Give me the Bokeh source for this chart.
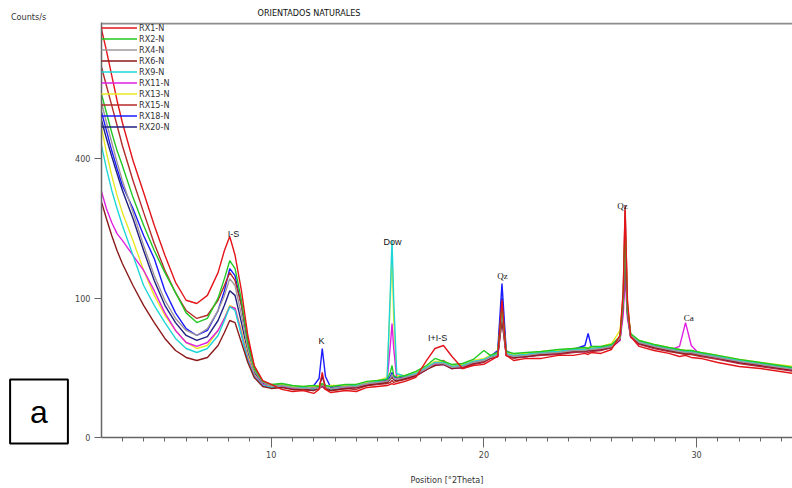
import numpy as np
from bokeh.plotting import figure
from bokeh.models import (Range1d, FixedTicker, Legend, LegendItem, Label, Span,
                          CustomJSTickFormatter, ColumnDataSource)
from bokeh.embed import file_html
from bokeh.resources import INLINE

# ---------------- data (counts/s) ----------------
two_theta = [2.0, 2.25, 2.5, 2.75, 3.0, 3.5, 4.0, 4.5, 5.0, 5.5, 6.0, 6.5, 7.0, 7.5, 7.8, 8.05,
             8.3, 8.6, 8.9, 9.2, 9.6, 10.0,
             10.5, 11.0, 11.5, 12.0, 12.25, 12.4, 12.55, 12.8, 13.5, 14.0,
             14.5, 15.0, 15.45, 15.6, 15.68, 15.76, 15.9, 16.3, 16.8, 17.3,
             17.7, 18.1, 18.5, 19.0, 19.5, 20.0, 20.3, 20.65, 20.85, 21.05,
             21.4, 22.0, 22.7, 23.5, 24.2, 24.75, 24.9, 25.05, 25.5, 26.0,
             26.4, 26.55, 26.64, 26.75, 26.9, 27.3, 28.0, 28.7, 29.2, 29.48,
             29.75, 30.2, 31.0, 32.0, 33.0, 34.6]

rx1_n = [866, 772, 675, 585, 511, 395, 309, 232, 171, 124, 97, 92.5, 104, 140, 180, 208,
         171, 111, 53.6, 26.7, 16.7, 14.5,
         11.9, 10.9, 11.4, 10.0, 11.9, 21.8, 11.9, 10.4, 11.4, 10.9,
         12.9, 13.4, 13.9, 14.5, 15.0, 14.5, 15.0, 16.2, 18.6, 30.5,
         40.8, 43.6, 33.8, 24.5, 26.7, 27.5, 30.5, 33.8, 97, 34.7,
         30.5, 32.2, 32.2, 34.7, 34.7, 36.4, 35.5, 37.2, 36.4, 39.9,
         53.6, 111, 266, 97, 52.6, 42.7, 39.0, 36.4, 33.8, 34.7,
         33.0, 32.2, 29.0, 26.0, 24.5, 21.0]
rx2_n = [613, 544, 479, 424, 381, 297, 232, 180, 140, 108, 80, 68, 73, 100, 130, 161,
         147, 97, 46.5, 24.5, 16.2, 14.5,
         15.0, 13.9, 13.4, 13.9, 13.4, 15.0, 13.9, 13.4, 14.5, 14.5,
         16.2, 16.7, 17.3, 21.8, 26.7, 19.8, 18.6, 19.8, 22.5, 26.7,
         32.2, 29.8, 27.5, 28.2, 31.4, 39.0, 34.7, 37.2, 90, 38.1,
         36.4, 37.2, 38.1, 39.9, 40.8, 41.7, 40.8, 42.7, 42.7, 44.6,
         52.6, 100, 232, 86, 55.7, 48.5, 44.6, 41.7, 39.9, 39.0,
         39.0, 37.2, 34.7, 31.4, 29.0, 25.2]
rx4_n = [585, 511, 449, 390, 340, 261, 190, 135, 97, 73, 59, 53.6, 61, 83, 104, 130,
         119, 77, 40.8, 23.1, 15.6, 13.9,
         13.9, 12.9, 12.4, 12.9, 12.4, 14.5, 12.9, 12.4, 13.4, 13.4,
         15.0, 15.6, 16.2, 17.9, 20.5, 17.9, 17.3, 18.6, 20.5, 24.5,
         28.2, 28.2, 25.3, 26.0, 29.0, 30.5, 33.0, 34.7, 83, 35.5,
         33.8, 34.7, 36.4, 37.2, 39.0, 39.0, 39.9, 39.9, 40.8, 42.7,
         50.5, 97, 210, 83, 53.6, 46.5, 42.7, 39.9, 38.1, 37.2,
         37.2, 35.5, 33.0, 29.8, 27.5, 23.8]
rx6_n = [289, 247, 210, 180, 156, 119, 90, 68, 50.5, 39, 33, 30.5, 33, 43.6, 56.8, 70.5,
         68, 46.5, 29, 18.5, 13.4, 12.4,
         12.9, 11.9, 11.9, 11.4, 12.4, 13.9, 12.4, 11.4, 12.4, 12.9,
         13.9, 15.0, 15.6, 17.3, 19.2, 17.3, 16.7, 17.9, 19.8, 23.8,
         26.7, 27.5, 24.5, 25.3, 28.2, 29.8, 32.2, 33.8, 70.5, 34.7,
         33.0, 33.8, 35.5, 36.4, 38.1, 38.1, 39.0, 39.0, 39.9, 41.7,
         49.5, 90, 171, 78, 52.6, 45.5, 41.7, 39.0, 37.2, 36.4,
         36.4, 34.7, 32.2, 29.0, 26.7, 23.1]
rx9_n = [445, 373, 315, 270, 232, 171, 119, 90, 68, 50.5, 40.8, 37.2, 40.8, 53.6, 70.5, 88,
         83, 53.6, 30.5, 19.2, 13.9, 12.9,
         13.9, 12.9, 12.9, 11.9, 12.9, 13.9, 13.4, 11.9, 13.4, 13.9,
         15.0, 16.2, 17.9, 111, 200, 97, 21.1, 19.2, 21.1, 25.3,
         29.0, 29.0, 26.0, 26.7, 29.8, 31.4, 33.8, 35.5, 77, 36.4,
         34.7, 35.5, 37.2, 38.1, 39.9, 39.9, 40.8, 40.8, 41.7, 43.6,
         51.5, 92.5, 190, 80.5, 53.6, 47.5, 43.6, 40.8, 39.0, 38.1,
         38.1, 36.4, 33.8, 30.5, 28.2, 24.5]
rx11_n = [315, 270, 238, 214, 200, 171, 144, 111, 80, 59, 46.5, 42.7, 46.5, 59, 73, 88,
          86, 55.7, 32.2, 19.8, 14.5, 12.9,
          13.4, 12.4, 12.4, 11.9, 12.9, 13.4, 12.4, 11.9, 12.9, 12.9,
          14.5, 15.0, 16.7, 43.6, 67, 40.8, 17.9, 17.9, 19.8, 23.8,
          27.5, 27.5, 24.5, 25.3, 28.2, 29.8, 32.2, 33.8, 73, 34.7,
          33.0, 33.8, 35.5, 36.4, 38.1, 38.1, 39.0, 39.0, 39.9, 41.7,
          48.5, 77, 135, 73, 51.5, 45.5, 41.7, 39.0, 42.7, 68,
          43.6, 34.7, 32.2, 29.0, 26.7, 23.1]
rx13_n = [502, 419, 354, 302, 261, 200, 144, 104, 77, 59, 46.5, 40.8, 43.6, 59, 73, 90,
          86, 59, 34.7, 20.5, 14.5, 13.4,
          14.5, 13.4, 13.4, 13.4, 13.9, 15.0, 13.4, 13.9, 13.9, 14.5,
          15.6, 16.7, 18.6, 97, 176, 70.5, 19.8, 19.8, 21.8, 26.0,
          29.8, 29.8, 26.7, 27.5, 30.5, 32.2, 34.7, 36.4, 80.5, 37.2,
          35.5, 36.4, 38.1, 39.0, 40.8, 40.8, 41.7, 41.7, 42.7, 45.5,
          59, 104, 221, 90, 54.6, 48.5, 44.6, 41.7, 39.9, 39.0,
          39.0, 37.2, 34.7, 31.4, 29.0, 26.0]
rx15_n = [713, 638, 568, 502, 439, 340, 261, 194, 144, 108, 83, 73, 77, 97, 119, 140,
          127, 90, 48.5, 26, 16.2, 13.9,
          13.4, 11.9, 11.9, 11.4, 12.4, 13.4, 11.9, 11.4, 12.4, 11.9,
          13.9, 14.5, 15.0, 15.6, 16.7, 15.6, 16.2, 17.3, 19.2, 23.8,
          29.0, 30.5, 26.0, 24.5, 27.5, 29.0, 32.2, 33.8, 83, 34.7,
          32.2, 33.8, 34.7, 35.5, 37.2, 38.1, 37.2, 38.1, 39.0, 41.7,
          51.5, 104, 277, 90, 52.6, 44.6, 40.8, 38.1, 36.4, 35.5,
          35.5, 33.8, 31.4, 28.2, 26.0, 22.5]
rx18_n = [551, 486, 424, 373, 327, 270, 210, 165, 111, 80, 61, 53.6, 59, 83, 111, 147,
          135, 90, 43.6, 23.1, 15.6, 13.9,
          14.5, 13.4, 12.9, 13.9, 17.9, 40.8, 19.2, 12.9, 13.9, 13.9,
          15.6, 16.2, 16.7, 19.2, 21.8, 19.2, 17.9, 19.2, 21.1, 25.3,
          29.0, 29.0, 26.0, 26.7, 29.8, 31.4, 33.8, 39.0, 122, 39.0,
          34.7, 35.5, 37.2, 38.1, 39.9, 43.6, 55.7, 42.7, 41.7, 43.6,
          51.5, 94, 200, 83, 54.6, 47.5, 43.6, 40.8, 39.0, 38.1,
          38.1, 36.4, 33.8, 29.0, 28.2, 24.5]
rx20_n = [524, 461, 407, 359, 315, 247, 180, 127, 90, 68, 53.6, 48.5, 52.5, 70.5, 90, 111,
          104, 68, 37.2, 21.8, 15.0, 13.4,
          13.4, 12.4, 11.9, 12.4, 13.4, 19.2, 13.4, 11.9, 12.9, 12.9,
          14.5, 15.0, 15.6, 17.9, 19.2, 17.3, 16.7, 17.9, 19.8, 23.8,
          27.5, 27.5, 24.5, 25.3, 28.2, 29.8, 32.2, 35.5, 100, 35.5,
          33.0, 33.8, 35.5, 36.4, 38.1, 38.1, 39.0, 39.0, 39.9, 41.7,
          49.5, 90, 180, 80.5, 52.6, 45.5, 41.7, 39.0, 37.2, 36.4,
          36.4, 34.7, 32.2, 29.0, 26.7, 23.1]

series_names = ["RX1-N", "RX2-N", "RX4-N", "RX6-N", "RX9-N",
                "RX11-N", "RX13-N", "RX15-N", "RX18-N", "RX20-N"]
series_values = [rx1_n, rx2_n, rx4_n, rx6_n, rx9_n, rx11_n, rx13_n, rx15_n, rx18_n, rx20_n]
series_colors = ["#e3151a", "#22c822", "#a0969a", "#8b1a1a", "#1fd6d6",
                 "#e020e0", "#e8e820", "#b52a2a", "#1a1aff", "#202080"]

peak_names = ["I-S", "K", "Dow", "I+I-S", "Qz", "Qz", "Ca"]
peak_label_x = [8.23, 12.37, 15.70, 17.82, 20.87, 26.52, 29.63]
peak_label_counts = [214, 47.5, 196, 50.5, 134, 275, 74]
peak_label_font = ["Liberation Sans", "Liberation Sans", "Liberation Sans", "Liberation Sans",
                   "Liberation Serif", "Liberation Serif", "Liberation Serif"]

x_major_ticks = [10, 20, 30]
x_minor_ticks = list(range(3, 35))
y_tick_counts = [0, 100, 400]
x_limits = (2.02, 34.51)
y_top_counts = 887.0

for v in series_values:
    assert len(v) == len(two_theta), len(v)

NARROW = "'Liberation Sans Narrow', 'DejaVu Sans Condensed', 'Liberation Sans', sans-serif"

p = figure(width=792, height=488, output_backend="svg", toolbar_location=None,
           x_range=Range1d(*x_limits), y_range=Range1d(0, float(np.sqrt(y_top_counts))),
           min_border_left=101, min_border_right=0, min_border_top=22, min_border_bottom=51)
p.background_fill_color = "white"
p.border_fill_color = "white"
p.outline_line_color = None
p.grid.visible = False

# lines (square-root intensity scale)
rend = {}
for name, vals, col in reversed(list(zip(series_names, series_values, series_colors))):
    rend[name] = p.line(two_theta, np.sqrt(np.array(vals, dtype=float)),
                        line_color=col, line_width=1.4)

legend = Legend(items=[LegendItem(label=n, renderers=[rend[n]]) for n in series_names],
                location="top_left", margin=0, padding=0, spacing=0,
                label_height=11, glyph_height=11, glyph_width=36, label_standoff=2,
                label_text_font_size="9px", label_text_font=NARROW,
                label_text_color="#333333",
                background_fill_alpha=0, border_line_color=None)
p.add_layout(legend)

# top frame line
p.add_layout(Span(location=float(np.sqrt(y_top_counts)) - 0.07, dimension="width",
                  line_color="#8c8c8c", line_width=2))

# axes
ax = p.xaxis[0]
ax.ticker = FixedTicker(ticks=x_major_ticks, minor_ticks=x_minor_ticks)
ax.major_tick_out = 10
ax.major_tick_in = 0
ax.minor_tick_out = 4
ax.minor_tick_in = 0
ax.axis_line_color = "#666666"
ax.axis_line_width = 1.5
ax.major_tick_line_color = "#666666"
ax.minor_tick_line_color = "#666666"
ax.major_label_text_font = NARROW
ax.major_label_text_font_size = "9px"
ax.major_label_text_color = "#444444"
ax.major_label_standoff = 3
ax.axis_label = "Position [°2Theta]"
ax.axis_label_text_font = NARROW
ax.axis_label_text_font_size = "9px"
ax.axis_label_text_font_style = "normal"
ax.axis_label_text_color = "#333333"
ax.axis_label_standoff = 14

ay = p.yaxis[0]
ay.ticker = FixedTicker(ticks=[float(np.sqrt(c)) for c in y_tick_counts], minor_ticks=[])
ay.formatter = CustomJSTickFormatter(code="return (tick*tick).toFixed(0);")
ay.major_tick_out = 7
ay.major_tick_in = 0
ay.minor_tick_line_color = None
ay.axis_line_color = "#666666"
ay.axis_line_width = 1.5
ay.major_tick_line_color = "#666666"
ay.major_label_text_font = NARROW
ay.major_label_text_font_size = "9px"
ay.major_label_text_color = "#444444"
ay.major_label_standoff = 4

# peak labels
src = ColumnDataSource(dict(x=peak_label_x, y=np.sqrt(peak_label_counts),
                            t=peak_names, f=peak_label_font))
p.text(x="x", y="y", text="t", text_font="f", source=src, text_font_size="9px",
       text_align="center", text_baseline="alphabetic", text_color="#111111")

# texts outside the frame: placed in side panels (not clipped), canvas units
p.add_layout(Label(x=28, y=16.5, x_units="canvas", y_units="canvas", text="Counts/s",
                   text_font=NARROW, text_font_size="9px", text_color="#333333",
                   text_align="center", text_baseline="middle"), "above")
p.add_layout(Label(x=308.5, y=12.5, x_units="canvas", y_units="canvas",
                   text="ORIENTADOS NATURALES", text_font=NARROW, text_font_size="9px",
                   text_color="#111111", text_align="center", text_baseline="middle"), "above")
p.add_layout(Label(x=38.5, y=411, x_units="canvas", y_units="canvas", text="a",
                   text_font="Liberation Sans", text_font_size="32px", text_color="black",
                   text_align="center", text_baseline="middle",
                   background_fill_color="white", border_line_color="black",
                   border_line_width=2, padding=(20, 20, 14, 14)), "left")

open("out.html", "w").write(file_html(p, INLINE))
